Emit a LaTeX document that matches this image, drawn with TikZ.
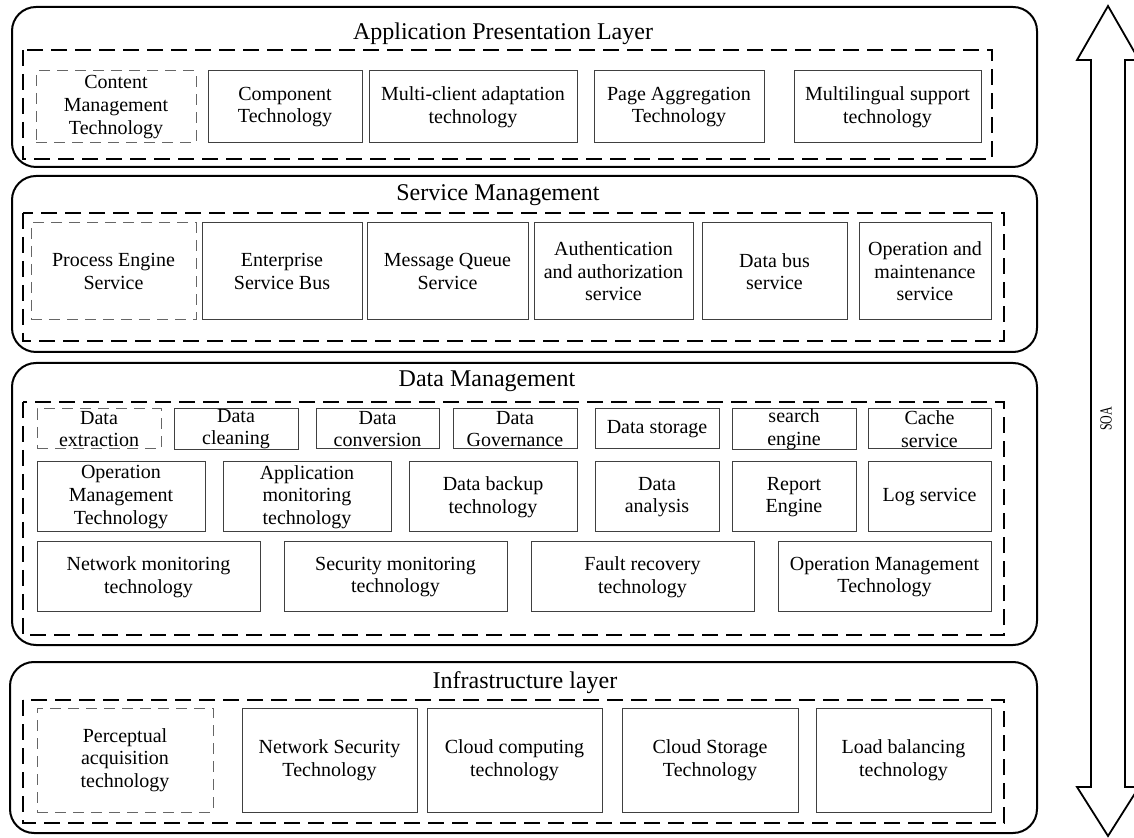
\documentclass[tikz,border=0pt]{standalone}
\usepackage{fontspec}
\setmainfont{Liberation Serif}
\usepackage{tikz}
\usetikzlibrary{positioning}
\tikzstyle{layerbox} = [draw=black, line width=1pt, rounded corners=12pt]
\tikzstyle{groupbox} = [draw=black, line width=1.1pt, dash pattern=on 8pt off 4pt]
\tikzstyle{techbox} = [rectangle, draw=black!75, line width=0.5pt, align=center, inner xsep=1pt, inner ysep=0pt, font=\fontsize{10}{11.3}\selectfont]
\tikzstyle{extbox} = [techbox, draw=black!60, dash pattern=on 5.5pt off 3.5pt]
\tikzstyle{layertitle} = [anchor=base, inner sep=0pt, font=\fontsize{12}{14}\selectfont]
\tikzstyle{soaarrow} = [draw=black, line width=0.9pt]

\begin{document}
\begin{tikzpicture}[x=0.5pt, y=-0.5pt]
\useasboundingbox (0,0) rectangle (1134,838);

% Layers
\draw [layerbox] (12,7) rectangle (1037,167);
\draw [groupbox] (23,50) rectangle (992,159);
\draw [layerbox] (12,176) rectangle (1037,352);
\draw [groupbox] (23,213) rectangle (1004,341);
\draw [layerbox] (12,363) rectangle (1037,645);
\draw [groupbox] (23,402) rectangle (1004,635);
\draw [layerbox] (10,662) rectangle (1037,833);
\draw [groupbox] (23,700) rectangle (1004,823);

% Titles
\node (apptitle) [layertitle] at (503,40) {Application Presentation Layer};
\node (svctitle) [layertitle] at (498,201) {Service Management};
\node (dattitle) [layertitle] at (487,387) {Data Management};
\node (inftitle) [layertitle] at (525,688) {Infrastructure layer};

% Application presentation layer
\node (ctm) [extbox, minimum width=80pt, minimum height=36pt] at (116,107) {Content\\Management\\Technology};
\node (comp) [techbox, minimum width=77pt, minimum height=36pt] at (285,107) {Component\\Technology};
\node (mca) [techbox, minimum width=104pt, minimum height=36pt] at (473,107) {Multi-client adaptation\\technology};
\node (pagg) [techbox, minimum width=85pt, minimum height=36pt] at (679,107) {Page Aggregation\\Technology};
\node (mling) [techbox, minimum width=93.5pt, minimum height=36pt] at (887.5,107) {Multilingual support\\technology};

% Service management
\node (pes) [extbox, minimum width=82.5pt, minimum height=48.5pt] at (113.5,271.5) {Process Engine\\Service};
\node (esb) [techbox, minimum width=80pt, minimum height=48.5pt] at (282,271.5) {Enterprise\\Service Bus};
\node (mqs) [techbox, minimum width=80.5pt, minimum height=48.5pt] at (447.5,271.5) {Message Queue\\Service};
\node (auth) [techbox, minimum width=79.5pt, minimum height=48.5pt] at (613.5,271.5) {Authentication\\and authorization\\service};
\node (dbus) [techbox, minimum width=72.5pt, minimum height=48.5pt] at (774.5,271.5) {Data bus\\service};
\node (oms) [techbox, minimum width=66pt, minimum height=48.5pt] at (925,271.5) {Operation and\\maintenance\\service};

% Data management
\node (dext) [extbox, minimum width=62pt, minimum height=20pt] at (99,429) {Data\\extraction};
\node (dcln) [techbox, minimum width=62pt, minimum height=20pt] at (236,429) {Data\\cleaning};
\node (dconv) [techbox, minimum width=61.5pt, minimum height=20pt] at (377.5,429) {Data\\conversion};
\node (dgov) [techbox, minimum width=62pt, minimum height=20pt] at (515,429) {Data\\Governance};
\node (dstor) [techbox, minimum width=62pt, minimum height=20pt] at (657,429) {Data storage};
\node (srch) [techbox, minimum width=62pt, minimum height=20pt] at (794,429) {search\\engine};
\node (cache) [techbox, minimum width=61.5pt, minimum height=20pt] at (929.5,429) {Cache\\service};

\node (omt) [techbox, minimum width=84pt, minimum height=35pt] at (121,497) {Operation\\Management\\Technology};
\node (amt) [techbox, minimum width=84pt, minimum height=35pt] at (307,497) {Application\\monitoring\\technology};
\node (dbt) [techbox, minimum width=84pt, minimum height=35pt] at (493,497) {Data backup\\technology};
\node (dana) [techbox, minimum width=62pt, minimum height=35pt] at (657,497) {Data\\analysis};
\node (rpt) [techbox, minimum width=62pt, minimum height=35pt] at (794,497) {Report\\Engine};
\node (logs) [techbox, minimum width=61.5pt, minimum height=35pt] at (929.5,497) {Log service};

\node (nmt) [techbox, minimum width=111.5pt, minimum height=35pt] at (148.5,577) {Network monitoring\\technology};
\node (smt) [techbox, minimum width=111.5pt, minimum height=35pt] at (395.5,577) {Security monitoring\\technology};
\node (frt) [techbox, minimum width=111.5pt, minimum height=35pt] at (642.5,577) {Fault recovery\\technology};
\node (omtb) [techbox, minimum width=106.5pt, minimum height=35pt] at (884.5,577) {Operation Management\\Technology};

% Infrastructure layer
\node (pat) [extbox, minimum width=88pt, minimum height=52pt] at (125,760) {Perceptual\\acquisition\\technology};
\node (nst) [techbox, minimum width=87.5pt, minimum height=52pt] at (329.5,760) {Network Security\\Technology};
\node (cct) [techbox, minimum width=87.5pt, minimum height=52pt] at (514.5,760) {Cloud computing\\technology};
\node (cst) [techbox, minimum width=88pt, minimum height=52pt] at (710,760) {Cloud Storage\\Technology};
\node (lbt) [techbox, minimum width=87.5pt, minimum height=52pt] at (903.5,760) {Load balancing\\technology};

% SOA arrow
\draw [soaarrow] (1108,6) -- (1139,60) -- (1125,60) -- (1125,787) -- (1139,787) -- (1108,836)
  -- (1077,787) -- (1091,787) -- (1091,60) -- (1077,60) -- cycle;
\node (soa) [rotate=90, inner sep=0pt, font=\fontsize{8.5}{10}\selectfont] at (1106,419) {\scalebox{0.7}[1]{SOA}};

\end{tikzpicture}
\end{document}
